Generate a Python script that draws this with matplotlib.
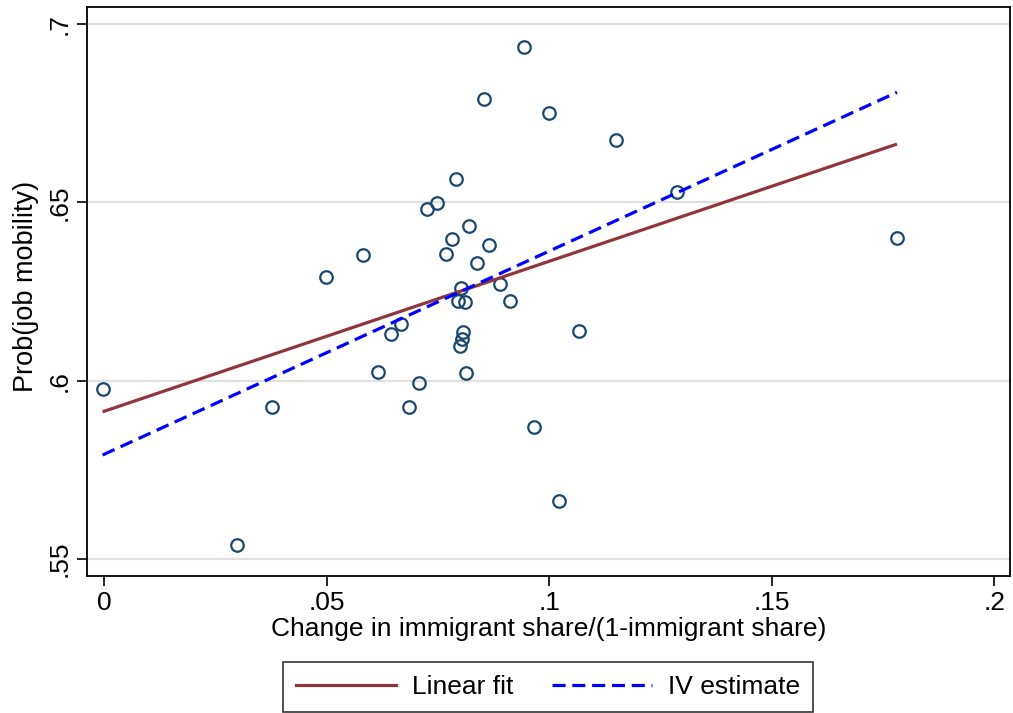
import matplotlib
matplotlib.use("Agg")
import matplotlib.pyplot as plt
from matplotlib.lines import Line2D

plt.rcParams['font.family'] = ['Liberation Sans', 'DejaVu Sans']

# Scatter data: change in immigrant share/(1-immigrant share) vs Prob(job mobility)
share_change = [-0.0004, 0.0298, 0.0376, 0.0498, 0.0582, 0.0616, 0.0643, 0.0666,
                0.0685, 0.0707, 0.0724, 0.0747, 0.0768, 0.0781, 0.0790, 0.0795,
                0.0799, 0.0801, 0.0803, 0.0806, 0.0811, 0.0812, 0.0819, 0.0837,
                0.0853, 0.0864, 0.0889, 0.0912, 0.0943, 0.0965, 0.0999, 0.1022,
                0.1067, 0.1150, 0.1287, 0.1781]
job_mobility = [0.5976, 0.5541, 0.5927, 0.6290, 0.6352, 0.6024, 0.6130, 0.6158,
                0.5927, 0.5995, 0.6482, 0.6497, 0.6355, 0.6397, 0.6566, 0.6222,
                0.6096, 0.6259, 0.6116, 0.6136, 0.6220, 0.6021, 0.6433, 0.6329,
                0.6789, 0.6380, 0.6272, 0.6224, 0.6935, 0.5871, 0.6750, 0.5662,
                0.6139, 0.6674, 0.6528, 0.6399]

# Fitted lines (endpoints over the data range)
fit_x = [-0.0004, 0.1781]
linear_fit_y = [0.5913, 0.6663]
iv_estimate_y = [0.5792, 0.6808]

x_ticks = [0, 0.05, 0.1, 0.15, 0.2]
x_tick_labels = ['0', '.05', '.1', '.15', '.2']
y_ticks = [0.55, 0.6, 0.65, 0.7]
y_tick_labels = ['.55', '.6', '.65', '.7']

FS = 19
W, H = 1013, 713
fig = plt.figure(figsize=(W / 100, H / 100), dpi=100)
ax = fig.add_axes([87 / W, 1 - 576 / H, (1010 - 87) / W, (576 - 7) / H])

ax.set_xlim(-0.0039, 0.2035)
ax.set_ylim(0.5453, 0.7047)

for yt in y_ticks:
    ax.axhline(yt, color='#e0e0e0', lw=1.6, zorder=0)

ax.plot(share_change, job_mobility, linestyle='none', marker='o', ms=9.0,
        mfc='none', mec='#1a476f', mew=1.6, zorder=3)
ax.plot(fit_x, linear_fit_y, color='#90353b', lw=2.3, solid_capstyle='butt', zorder=4)
ax.plot(fit_x, iv_estimate_y, color='#0000ff', lw=2.3, dashes=(4.1, 2.1),
        dash_capstyle='butt', zorder=5)

ax.set_xticks(x_ticks)
ax.set_xticklabels(x_tick_labels)
ax.set_yticks(y_ticks)
ax.set_yticklabels(y_tick_labels, rotation=90, va='center')
ax.tick_params(axis='both', direction='out', length=7, width=1.2, labelsize=FS,
               color='black', pad=4)
for s in ax.spines.values():
    s.set_linewidth(1.3)
    s.set_color('black')

ax.set_xlabel('Change in immigrant share/(1-immigrant share)', fontsize=FS, labelpad=1)
ax.set_ylabel('Prob(job mobility)', fontsize=19.5)
ax.yaxis.set_label_coords((39 - 87) / 923, (576 - 286) / 569)

handles = [Line2D([], [], color='#90353b', lw=2.3),
           Line2D([], [], color='#0000ff', lw=2.3, dashes=(4.1, 2.1))]
leg = fig.legend(handles, ['Linear fit', 'IV estimate'], loc='center',
                 bbox_to_anchor=(548 / W, 1 - 687 / H), ncol=2, frameon=True,
                 fancybox=False, edgecolor='black', fontsize=FS,
                 handlelength=3.8, columnspacing=1.44, handletextpad=0.6,
                 borderpad=0.5)
leg.get_frame().set_linewidth(1.2)

fig.savefig('out.png', dpi=100)
